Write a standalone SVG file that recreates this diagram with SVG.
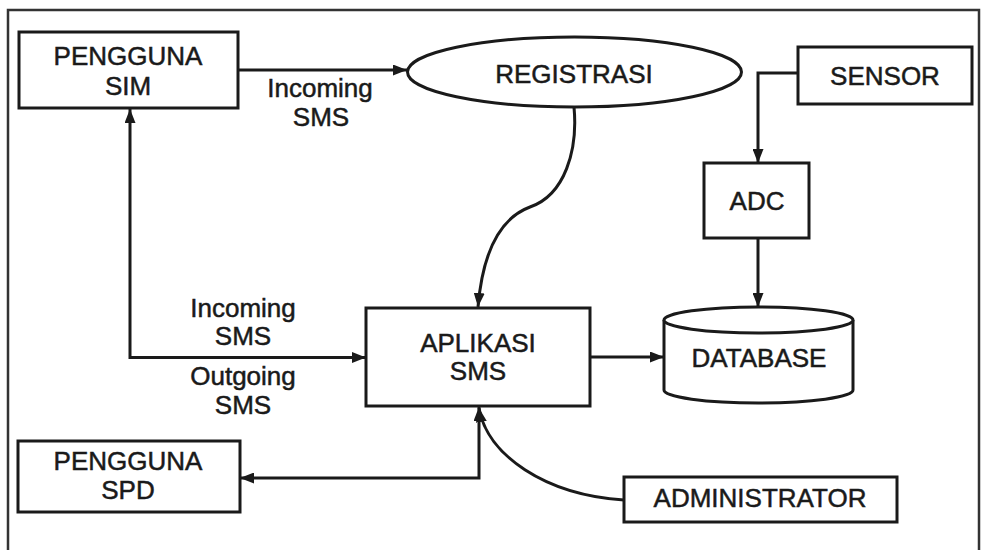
<svg xmlns="http://www.w3.org/2000/svg" width="983" height="550" viewBox="0 0 983 550">
<style>
.box{fill:#fff;stroke:#1a1a1a;stroke-width:3}
.t{font-family:"Liberation Sans",Arial,Helvetica,sans-serif;font-size:26px;fill:#1a1a1a;stroke:#1a1a1a;stroke-width:0.5;text-anchor:middle}
.c{fill:none;stroke:#1a1a1a;stroke-width:3}
</style>
<defs>
<marker id="ah" viewBox="0 0 14 11" refX="14" refY="5.5" markerWidth="14" markerHeight="11" markerUnits="userSpaceOnUse" orient="auto-start-reverse">
<path d="M0,0 L14,5.5 L0,11 z" fill="#1a1a1a"/>
</marker>
</defs>
<rect x="0" y="0" width="983" height="550" fill="#fff"/>
<rect x="8" y="10" width="971" height="560" fill="none" stroke="#333" stroke-width="2.5"/>

<g id="connectors">
<path class="c" d="M238,70 H407" marker-end="url(#ah)"/>
<path class="c" d="M130,109 V357.5 H366" marker-start="url(#ah)" marker-end="url(#ah)"/>
<path class="c" d="M574,107 C578,150 565,195 530,207 C495,220 482,260 478,307" marker-end="url(#ah)"/>
<path class="c" d="M798,73 H758 V163" marker-end="url(#ah)"/>
<path class="c" d="M758,238 V307" marker-end="url(#ah)"/>
<path class="c" d="M590,357 H664" marker-end="url(#ah)"/>
<path class="c" d="M479,407 V478 H240" marker-start="url(#ah)" marker-end="url(#ah)"/>
<path class="c" d="M624,500 C545,495 487,455 479,408" marker-end="url(#ah)"/>
</g>

<g id="pengguna-sim">
<rect class="box" x="19" y="32" width="219" height="76"/>
<text class="t" x="128" y="65">PENGGUNA</text>
<text class="t" x="128" y="95">SIM</text>
</g>

<g id="label-incoming-top">
<text class="t" x="320" y="97">Incoming</text>
<text class="t" x="321" y="126">SMS</text>
</g>

<g id="registrasi">
<ellipse class="box" cx="574.5" cy="72" rx="167" ry="35"/>
<text class="t" x="574" y="83">REGISTRASI</text>
</g>

<g id="sensor">
<rect class="box" x="798" y="47" width="174" height="57"/>
<text class="t" x="885" y="85">SENSOR</text>
</g>

<g id="adc">
<rect class="box" x="704" y="163" width="105" height="75"/>
<text class="t" x="757" y="210">ADC</text>
</g>

<g id="aplikasi-sms">
<rect class="box" x="366" y="308" width="224" height="98"/>
<text class="t" x="478" y="352">APLIKASI</text>
<text class="t" x="478" y="380">SMS</text>
</g>

<g id="database">
<path class="box" d="M664,320 V390 A94.5,13 0 0 0 853,390 V320"/>
<ellipse class="box" cx="758.5" cy="320" rx="94.5" ry="13"/>
<text class="t" x="759" y="367">DATABASE</text>
</g>

<g id="label-incoming-bottom">
<text class="t" x="243" y="317">Incoming</text>
<text class="t" x="243" y="345">SMS</text>
</g>

<g id="label-outgoing">
<text class="t" x="243" y="385">Outgoing</text>
<text class="t" x="243" y="414">SMS</text>
</g>

<g id="pengguna-spd">
<rect class="box" x="18" y="441" width="222" height="71"/>
<text class="t" x="128" y="470">PENGGUNA</text>
<text class="t" x="128" y="499">SPD</text>
</g>

<g id="administrator">
<rect class="box" x="624" y="477" width="273" height="45"/>
<text class="t" x="760" y="507">ADMINISTRATOR</text>
</g>
</svg>
